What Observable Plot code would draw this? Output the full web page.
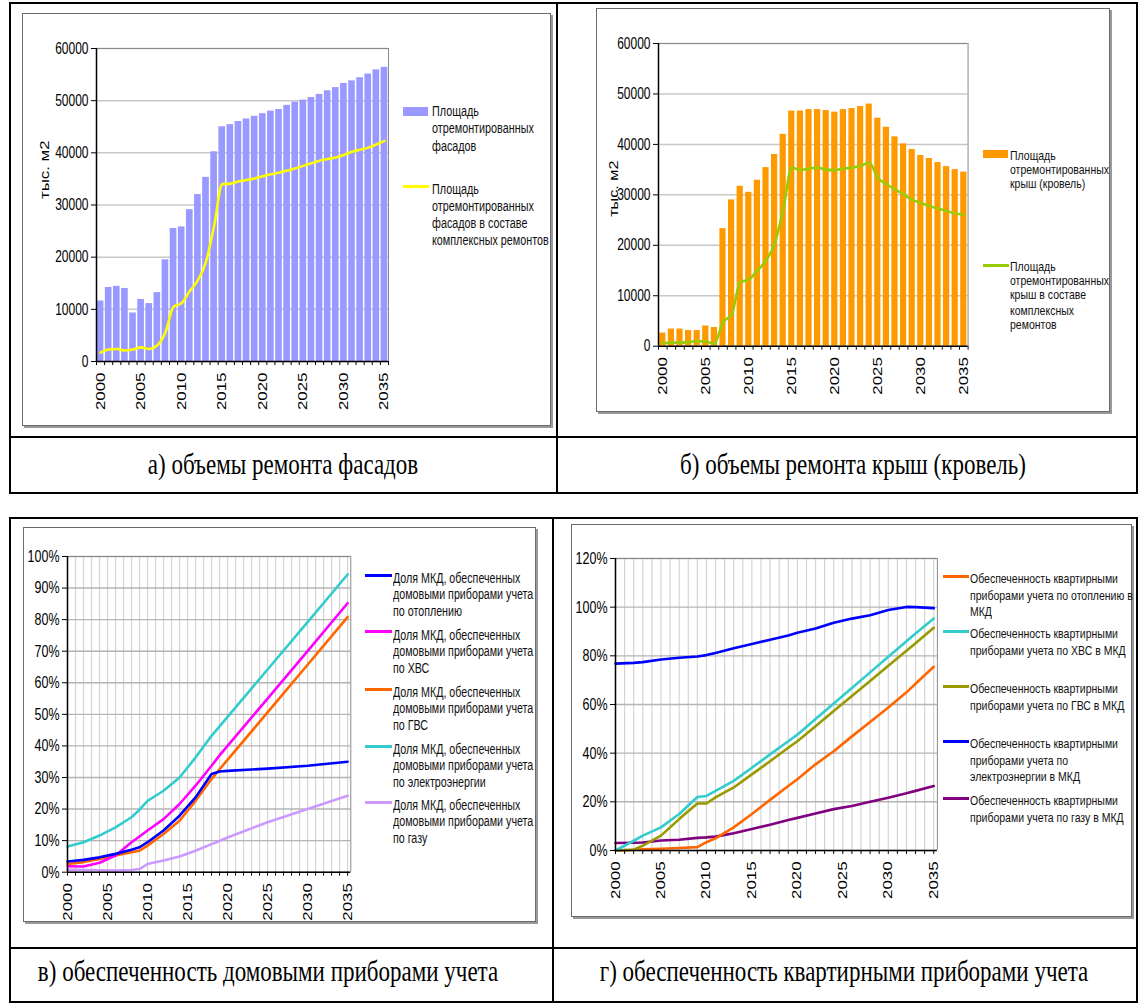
<!DOCTYPE html>
<html><head><meta charset="utf-8">
<script src="https://cdn.jsdelivr.net/npm/d3@7"></script>
<script src="https://cdn.jsdelivr.net/npm/@observablehq/plot@0.6"></script>
<style>
html,body{margin:0;padding:0;background:#fff}
body{width:1139px;height:1003px;position:relative;overflow:hidden;font-family:"Liberation Sans",Arial,sans-serif;color:#000}
.box{position:absolute;box-sizing:border-box}
.ln{position:absolute;background:#000}
.frame{position:absolute;box-sizing:border-box;border:1px solid #6a6a6a;box-shadow:2px 2px 0 #9a9a9a;background:#fff}
.leg{position:absolute;font-size:11px;white-space:nowrap;color:#111;transform:scaleY(1.3);transform-origin:0 0}
.cap{position:absolute;font-family:"Liberation Serif","Times New Roman",serif;font-size:23px;line-height:26px;white-space:nowrap;transform:translateX(-50%) scaleY(1.3);transform-origin:50% 0}
.plotwrap{position:absolute}
.plotwrap svg{max-width:none}
</style></head>
<body>
<script>
// ---------------- DATA ----------------
const years = [2000,2001,2002,2003,2004,2005,2006,2007,2008,2009,2010,2011,2012,2013,2014,2015,2016,2017,2018,2019,2020,2021,2022,2023,2024,2025,2026,2027,2028,2029,2030,2031,2032,2033,2034,2035];
const labelYears = [2000,2005,2010,2015,2020,2025,2030,2035];
const areaTicks = [0,10000,20000,30000,40000,50000,60000];

// a) facades, тыс. м2
const facadeArea    = [11600,14200,14400,14000,9300,11900,11100,13200,19500,25500,25800,29100,32000,35300,40200,45000,45400,46000,46500,47000,47500,48000,48300,49100,49700,50100,50600,51200,51900,52500,53300,53800,54400,55100,55900,56400];
const facadeComplex = [1700,2300,2400,2100,2300,2700,2400,3100,5600,10500,11200,13500,15600,19100,26000,34000,34100,34500,34800,35100,35500,35900,36200,36600,37000,37500,38000,38500,38800,39100,39600,40200,40600,41000,41600,42300];

// б) roofs, тыс. м2
const roofArea    = [2600,3400,3400,3100,3100,4000,3700,23300,29000,31700,30500,32900,35400,38000,42000,46600,46600,46900,46900,46700,46400,46900,47100,47500,48000,45200,43400,41500,40100,39000,37800,37200,36400,35600,35000,34500];
const roofComplex = [600,700,700,800,1000,900,500,4800,6200,12700,13200,15000,17000,20300,27000,35400,34900,35200,35400,35000,34900,35200,35400,35700,36400,33400,32100,31100,30100,29000,28400,27800,27300,26800,26300,26100];

// в) house meters, %
const yearsV = [2000,2002,2004,2006,2008,2009,2010,2012,2014,2016,2018,2019,2020,2025,2030,2035];
const houseHeat  = [3.4,3.9,4.7,5.8,7.1,7.9,9.5,13.2,17.9,23.7,31.1,31.9,32.1,32.8,33.7,35.0];
const houseCold  = [1.9,1.8,3.0,5.3,9.5,11.3,13.2,16.8,21.6,27.4,33.7,37.0,40.0,55.0,70.0,85.2];
const houseHot   = [2.6,3.2,4.2,5.3,6.3,6.8,8.4,12.1,16.3,22.6,29.5,32.6,35.6,50.6,65.7,80.8];
const houseElec  = [8.1,9.5,11.6,14.2,17.4,19.8,22.6,25.8,30.0,36.3,43.2,46.2,49.2,64.2,79.2,94.3];
const houseGas   = [0.8,0.7,0.6,0.5,0.7,1.0,2.6,3.7,5.0,6.8,8.9,9.9,11.0,15.8,20.0,24.2];
const pctTicksV = [0,10,20,30,40,50,60,70,80,90,100];

// г) apartment meters, %
const yearsG = [2000,2002,2003,2005,2007,2009,2010,2011,2013,2015,2017,2019,2020,2022,2024,2026,2028,2030,2032,2033,2035];
const aptHeat = [0,0.3,0.5,0.7,1.0,1.4,3.4,5.0,9.5,15.0,20.8,26.5,29.3,35.4,40.8,46.9,52.8,58.8,65.0,68.5,75.5];
const aptCold = [0,4.0,6.1,9.5,15.0,22.0,22.4,24.5,28.6,34.0,39.5,44.9,47.6,54.0,60.4,66.8,73.2,79.6,86.0,89.2,95.3];
const aptHot  = [0,0.3,2.0,6.1,12.9,19.3,19.3,21.8,25.9,31.3,36.7,42.2,44.9,51.1,57.3,63.5,69.7,75.9,82.1,85.2,91.5];
const aptElec = [76.8,77.1,77.4,78.5,79.2,79.7,80.3,81.2,83.1,84.9,86.6,88.4,89.5,91.2,93.6,95.3,96.7,98.8,100.1,100.0,99.6];
const aptGas  = [3.1,3.2,3.3,4.1,4.4,5.2,5.4,5.7,7.1,8.8,10.6,12.5,13.4,15.2,17.0,18.3,20.0,21.7,23.5,24.5,26.5];
const pctTicksG = [0,20,40,60,80,100,120];

// legends / captions
const legA = [["Площадь","отремонтированных","фасадов"],["Площадь","отремонтированных","фасадов в составе","комплексных ремонтов"]];
const legB = [["Площадь","отремонтированных","крыш (кровель)"],["Площадь","отремонтированных","крыш в составе","комплексных","ремонтов"]];
const legV = [
  ["Доля МКД, обеспеченных","домовыми приборами учета","по отоплению"],
  ["Доля МКД, обеспеченных","домовыми приборами учета","по ХВС"],
  ["Доля МКД, обеспеченных","домовыми приборами учета","по ГВС"],
  ["Доля МКД, обеспеченных","домовыми приборами учета","по электроэнергии"],
  ["Доля МКД, обеспеченных","домовыми приборами учета","по газу"]];
const legG = [
  ["Обеспеченность квартирными","приборами учета по отоплению в","МКД"],
  ["Обеспеченность квартирными","приборами учета по ХВС в МКД"],
  ["Обеспеченность квартирными","приборами учета по ГВС в МКД"],
  ["Обеспеченность квартирными","приборами учета по","электроэнергии в МКД"],
  ["Обеспеченность квартирными","приборами учета по газу в МКД"]];
const captions = ["а) объемы ремонта фасадов","б) объемы ремонта крыш (кровель)","в) обеспеченность домовыми приборами учета","г) обеспеченность квартирными приборами учета"];
const unitLabel = "тыс. м2";

// ---------------- HELPERS ----------------
const FONT = '"Liberation Sans", Arial, sans-serif';
const STRETCH = 1.35;
function el(tag, cls, css, html){const e=document.createElement(tag); if(cls) e.className=cls; Object.assign(e.style,css||{}); if(html!=null) e.innerHTML=html; document.body.appendChild(e); return e;}
function hline(x1,x2,y,w){el("div","ln",{left:x1+"px",top:(y-w/2)+"px",width:(x2-x1)+"px",height:w+"px"});}
function vline(x,y1,y2,w){el("div","ln",{left:(x-w/2)+"px",top:y1+"px",width:w+"px",height:(y2-y1)+"px"});}
function frame(l,t,r,b){el("div","frame",{left:l+"px",top:t+"px",width:(r-l)+"px",height:(b-t)+"px"});}
// the source image is stretched vertically: stretch the SVG texts the same way
function stretchText(svg){
  svg.querySelectorAll("text").forEach(t=>{
    const tr=t.getAttribute("transform");
    if(tr==null) return;
    t.setAttribute("transform", tr + (/rotate\(-90\)/.test(tr) ? ` scale(${STRETCH},1)` : ` scale(1,${STRETCH})`));
  });
}
function place(svg,left,top){stretchText(svg); const w=el("div","plotwrap",{left:left+"px",top:top+"px"}); w.appendChild(svg);}
function legText(x,y,lines,lh,fs){
  const l=lh/1.3;
  el("div","leg",{left:x+"px",top:(y-lh/2)+"px",lineHeight:l+"px",fontSize:fs+"px"},lines.join("<br>"));
}
function xTickMarks(vals){ return Plot.ruleX(vals,{y1:0,y2:0,insetBottom:-4,stroke:"#000"}); }

// ---------------- TABLE ----------------
hline(9,1138,3,2); hline(9,1138,437,2); hline(9,1138,493,2);
vline(10,2,494,2); vline(557,2,494,2); vline(1137,2,494,2);
hline(9,1138,518,2); hline(9,1138,948,2); hline(9,1138,1002,2);
vline(10,517,1003,2); vline(553,517,1003,2); vline(1137,517,1003,2);

// chart frames
frame(22,13,551,426);
frame(596,8,1110,412);
frame(23,527,536,922);
frame(571,524,1132,917);

// ---------------- CHART A ----------------
{
  const x0=96,x1=388,y0=48,y1=361, mL=62,mR=4,mT=6,mB=52;
  const data = years.map((y,i)=>({year:y, area:facadeArea[i], complex:facadeComplex[i]}));
  const halfYears = years.map(y=>y-0.5).concat([years[years.length-1]+0.5]);
  const svg = Plot.plot({
    width:(x1-x0)+mL+mR, height:(y1-y0)+mT+mB,
    marginLeft:mL, marginRight:mR, marginTop:mT, marginBottom:mB,
    x:{domain:[1999.5,2035.5]}, y:{domain:[0,60000]},
    style:{fontFamily:FONT,fontSize:"12px",color:"#000",background:"transparent",overflow:"visible"},
    marks:[
      Plot.gridY(areaTicks,{stroke:"#c8c8c8",strokeOpacity:1,strokeWidth:1.5}),
      Plot.rectY(data,{x1:d=>d.year-0.41,x2:d=>d.year+0.41,y:"area",fill:"#9999ff"}),
      Plot.line(data,{x:"year",y:"complex",stroke:"#ffff00",strokeWidth:2.6,curve:"monotone-x"}),
      Plot.ruleY([60000],{stroke:"#8a8a8a"}),
      Plot.ruleX([2035.5],{stroke:"#8a8a8a"}),
      Plot.ruleX([1999.5],{stroke:"#000",strokeWidth:1.5}),
      Plot.ruleY([0],{stroke:"#000",strokeWidth:1.5}),
      Plot.axisY({ticks:areaTicks,tickFormat:"d",tickSize:5,tickPadding:3,label:null}),
      xTickMarks(halfYears),
      Plot.axisX({ticks:labelYears,tickFormat:"d",tickRotate:-90,tickSize:0,tickPadding:11,label:null,fontSize:12.5}),
      Plot.text([unitLabel],{frameAnchor:"left",rotate:-90,dx:-52,dy:-6,fontSize:12.5})
    ]
  });
  place(svg,x0-mL,y0-mT);
  const x=403;
  el("div","box",{left:x+"px",top:"107px",width:"25px",height:"9px",background:"#9999ff"});
  legText(x+29,111.7,legA[0],17.5,10.8);
  el("div","box",{left:x+"px",top:"185px",width:"26px",height:"3px",background:"#ffff00"});
  legText(x+29,189,legA[1],16.8,10.8);
}

// ---------------- CHART B ----------------
{
  const x0=658,x1=967.6,y0=43.3,y1=346, mL=62,mR=4,mT=6,mB=52;
  const data = years.map((y,i)=>({year:y, area:roofArea[i], complex:roofComplex[i]}));
  const halfYears = years.map(y=>y-0.5).concat([years[years.length-1]+0.5]);
  const svg = Plot.plot({
    width:(x1-x0)+mL+mR, height:(y1-y0)+mT+mB,
    marginLeft:mL, marginRight:mR, marginTop:mT, marginBottom:mB,
    x:{domain:[1999.5,2035.5]}, y:{domain:[0,60000]},
    style:{fontFamily:FONT,fontSize:"12px",color:"#000",background:"transparent",overflow:"visible"},
    marks:[
      Plot.gridY(areaTicks,{stroke:"#c8c8c8",strokeOpacity:1,strokeWidth:1.5}),
      Plot.rectY(data,{x1:d=>d.year-0.36,x2:d=>d.year+0.36,y:"area",fill:"#ff9900"}),
      Plot.line(data,{x:"year",y:"complex",stroke:"#99cc00",strokeWidth:2.6,curve:"monotone-x"}),
      Plot.ruleY([60000],{stroke:"#8a8a8a"}),
      Plot.ruleX([2035.5],{stroke:"#8a8a8a"}),
      Plot.ruleX([1999.5],{stroke:"#000",strokeWidth:1.5}),
      Plot.ruleY([0],{stroke:"#000",strokeWidth:1.5}),
      Plot.axisY({ticks:areaTicks,tickFormat:"d",tickSize:5,tickPadding:3,label:null}),
      xTickMarks(halfYears),
      Plot.axisX({ticks:labelYears,tickFormat:"d",tickRotate:-90,tickSize:0,tickPadding:11,label:null,fontSize:12.5}),
      Plot.text([unitLabel],{frameAnchor:"left",rotate:-90,dx:-44,dy:22,fontSize:12})
    ]
  });
  place(svg,x0-mL,y0-mT);
  const x=983;
  el("div","box",{left:x+"px",top:"150px",width:"25px",height:"8px",background:"#ff9900"});
  legText(x+27,155,legB[0],14.3,10.5);
  el("div","box",{left:x+"px",top:"263.5px",width:"26px",height:"3px",background:"#99cc00"});
  legText(x+27,266.7,legB[1],14.6,10.5);
}

// ---------------- CHART V ----------------
{
  const x0=66.7,x1=350,y0=556,y1=871.7, mL=60,mR=4,mT=6,mB=48;
  const colors=["#0000ff","#ff00ff","#ff6600","#33cccc","#cc99ff"];
  const series=[houseHeat,houseCold,houseHot,houseElec,houseGas];
  const data=[]; series.forEach((s,k)=>yearsV.forEach((y,i)=>data.push({k,year:y,v:s[i]})));
  const order=[4,3,2,1,0];
  const svg = Plot.plot({
    width:(x1-x0)+mL+mR, height:(y1-y0)+mT+mB,
    marginLeft:mL, marginRight:mR, marginTop:mT, marginBottom:mB,
    x:{domain:[2000,2035.4]}, y:{domain:[0,100]},
    style:{fontFamily:FONT,fontSize:"12px",color:"#000",background:"transparent",overflow:"visible"},
    marks:[
      Plot.gridX(years,{stroke:"#d4d4d4",strokeOpacity:1,strokeWidth:1.2}),
      Plot.gridY(pctTicksV,{stroke:"#b4b4b4",strokeOpacity:1,strokeWidth:1.4}),
      Plot.ruleY([100],{stroke:"#8a8a8a"}),
      Plot.ruleX([2035.4],{stroke:"#8a8a8a"}),
      ...order.map(k=>Plot.line(data.filter(d=>d.k===k),{x:"year",y:"v",stroke:colors[k],strokeWidth:2.6})),
      Plot.ruleX([2000],{stroke:"#000",strokeWidth:1.5}),
      Plot.ruleY([0],{stroke:"#000",strokeWidth:1.5}),
      Plot.axisY({ticks:pctTicksV,tickFormat:d=>d+"%",tickSize:5,tickPadding:3,label:null,fontSize:12.5}),
      xTickMarks(years),
      Plot.axisX({ticks:labelYears,tickFormat:"d",tickRotate:-90,tickSize:0,tickPadding:11,label:null,fontSize:12.5})
    ]
  });
  place(svg,x0-mL,y0-mT);
  const ys=[575,631.7,689,746,802.3];
  ys.forEach((y,i)=>{
    el("div","box",{left:"365px",top:(y-1.5)+"px",width:"27px",height:"3px",background:colors[i]});
    legText(393,y+3,legV[i],16,10.7);
  });
}

// ---------------- CHART G ----------------
{
  const x0=615,x1=936.9,y0=558.3,y1=850.3, mL=60,mR=4,mT=6,mB=48;
  const colors=["#ff6600","#33cccc","#999900","#0000ff","#800080"];
  const series=[aptHeat,aptCold,aptHot,aptElec,aptGas];
  const data=[]; series.forEach((s,k)=>yearsG.forEach((y,i)=>data.push({k,year:y,v:s[i]})));
  const order=[4,0,2,1,3];
  const svg = Plot.plot({
    width:(x1-x0)+mL+mR, height:(y1-y0)+mT+mB,
    marginLeft:mL, marginRight:mR, marginTop:mT, marginBottom:mB,
    x:{domain:[2000,2035.4]}, y:{domain:[0,120]},
    style:{fontFamily:FONT,fontSize:"12px",color:"#000",background:"transparent",overflow:"visible"},
    marks:[
      Plot.gridX(years,{stroke:"#d4d4d4",strokeOpacity:1,strokeWidth:1.2}),
      Plot.gridY(pctTicksG,{stroke:"#b4b4b4",strokeOpacity:1,strokeWidth:1.4}),
      Plot.ruleY([120],{stroke:"#8a8a8a"}),
      Plot.ruleX([2035.4],{stroke:"#8a8a8a"}),
      ...order.map(k=>Plot.line(data.filter(d=>d.k===k),{x:"year",y:"v",stroke:colors[k],strokeWidth:2.6})),
      Plot.ruleX([2000],{stroke:"#000",strokeWidth:1.5}),
      Plot.ruleY([0],{stroke:"#000",strokeWidth:1.5}),
      Plot.axisY({ticks:pctTicksG,tickFormat:d=>d+"%",tickSize:5,tickPadding:3,label:null,fontSize:12.5}),
      xTickMarks(years),
      Plot.axisX({ticks:labelYears,tickFormat:"d",tickRotate:-90,tickSize:0,tickPadding:11,label:null,fontSize:12.5})
    ]
  });
  place(svg,x0-mL,y0-mT);
  const ys=[576.7,631.7,686.7,741.7,798.3];
  ys.forEach((y,i)=>{
    el("div","box",{left:"943px",top:(y-1.5)+"px",width:"26px",height:"3px",background:colors[i]});
    legText(970,y+1.5,legG[i],16.5,10.5);
  });
}

// ---------------- CAPTIONS ----------------
el("div","cap",{left:"283px",top:"448px"},captions[0]);
el("div","cap",{left:"853px",top:"448px"},captions[1]);
el("div","cap",{left:"268px",top:"955px"},captions[2]);
el("div","cap",{left:"844px",top:"955px"},captions[3]);
</script>
</body></html>
